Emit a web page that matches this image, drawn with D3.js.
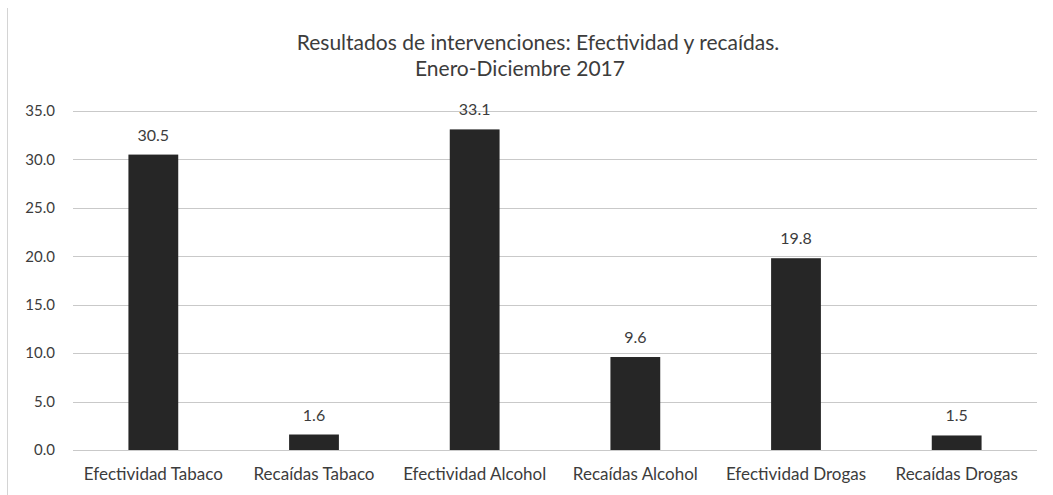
<!DOCTYPE html>
<html>
<head>
<meta charset="utf-8">
<script src="https://cdn.jsdelivr.net/npm/d3@7"></script>
<style>
  html, body { margin: 0; padding: 0; background: #fff; }
  svg { display: block; font-family: Lato, "Open Sans", sans-serif; }
</style>
</head>
<body>
<svg id="chart" width="1053" height="495"></svg>
<script>
// Intervention outcomes, January–December 2017
const categories = [
  "Efectividad Tabaco",
  "Recaídas Tabaco",
  "Efectividad Alcohol",
  "Recaídas Alcohol",
  "Efectividad Drogas",
  "Recaídas Drogas"
];
const values = [30.5, 1.6, 33.1, 9.6, 19.8, 1.5];
const yTicks = [0, 5, 10, 15, 20, 25, 30, 35];
const titleLines = [
  "Resultados de intervenciones: Efectividad y recaídas.",
  "Enero-Diciembre 2017"
];

const svg = d3.select("#chart");
const W = 1053, H = 495;
const margin = { top: 111, right: 16, bottom: 45, left: 73 };
const innerW = W - margin.left - margin.right;
const innerH = H - margin.top - margin.bottom;
const textColor = "#3c3c3c";

// faint frame edge on the left
svg.append("line")
  .attr("x1", 7.5).attr("x2", 7.5)
  .attr("y1", 8).attr("y2", H)
  .attr("stroke", "#d4d4d4").attr("stroke-width", 1);

const x = d3.scaleBand()
  .domain(categories)
  .range([0, innerW])
  .paddingInner(0.69)
  .paddingOuter(0.345);

const y = d3.scaleLinear()
  .domain([0, 35])
  .range([innerH, 0]);

const g = svg.append("g")
  .attr("transform", `translate(${margin.left},${margin.top})`);

// horizontal gridlines
g.append("g")
  .selectAll("line")
  .data(yTicks)
  .join("line")
  .attr("x1", 0).attr("x2", innerW)
  .attr("y1", d => Math.round(y(d)) + 0.5)
  .attr("y2", d => Math.round(y(d)) + 0.5)
  .attr("stroke", "#c9c9c9")
  .attr("stroke-width", 1);

// y axis labels
const yAxis = d3.axisLeft(y)
  .tickValues(yTicks)
  .tickFormat(d3.format(".1f"))
  .tickSize(0)
  .tickPadding(18);
g.append("g")
  .call(yAxis)
  .call(s => s.select(".domain").remove())
  .selectAll("text")
  .attr("fill", textColor)
  .style("font-size", "15px")
  .style("font-family", "Lato, 'Open Sans', sans-serif");

// bars
g.append("g")
  .selectAll("rect")
  .data(values)
  .join("rect")
  .attr("x", (d, i) => x(categories[i]))
  .attr("width", x.bandwidth())
  .attr("y", d => y(d))
  .attr("height", d => y(0) - y(d))
  .attr("fill", "#262626");

// value labels
g.append("g")
  .selectAll("text")
  .data(values)
  .join("text")
  .attr("x", (d, i) => x(categories[i]) + x.bandwidth() / 2)
  .attr("y", d => y(d) - 14)
  .attr("text-anchor", "middle")
  .attr("fill", textColor)
  .style("font-size", "16px")
  .text(d => d3.format(".1f")(d));

// category axis labels
const xAxis = d3.axisBottom(x).tickSize(0).tickPadding(18);
g.append("g")
  .attr("transform", `translate(0,${innerH})`)
  .call(xAxis)
  .call(s => s.select(".domain").remove())
  .selectAll("text")
  .attr("fill", textColor)
  .style("font-size", "17px")
  .style("font-family", "Lato, 'Open Sans', sans-serif");

// title
svg.append("g")
  .selectAll("text")
  .data(titleLines)
  .join("text")
  .attr("x", (d, i) => i === 0 ? 538 : 520)
  .attr("y", (d, i) => 50 + i * 26)
  .attr("text-anchor", "middle")
  .attr("fill", textColor)
  .style("font-size", "21px")
  .text(d => d);
</script>
</body>
</html>
